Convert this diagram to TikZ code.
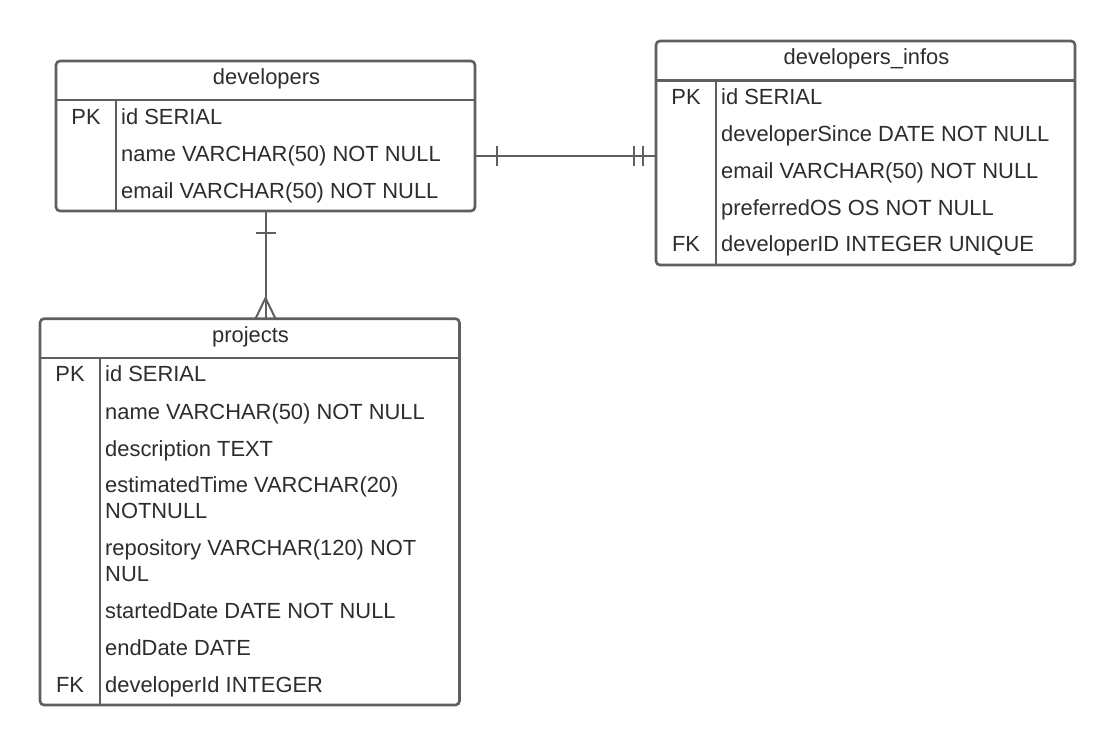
\documentclass[tikz,border=0pt]{standalone}
\usepackage{fontspec}
\setmainfont{Liberation Sans}
\usetikzlibrary{calc}
\definecolor{bordc}{RGB}{95,95,95}
\definecolor{txtc}{RGB}{45,45,45}
\begin{document}
\begin{tikzpicture}[x=1pt,y=-1pt,
  tbl/.style={draw=bordc,line width=2.6pt,rounded corners=4pt,fill=white,inner sep=0pt,outer sep=0pt},
  sepline/.style={draw=bordc,line width=2.6pt},
  conn/.style={draw=bordc,line width=2pt},
  txt/.style={text=txtc,inner sep=0pt,anchor=base west,font=\fontsize{21.9}{24}\selectfont},
  keytxt/.style={text=txtc,inner sep=0pt,anchor=base,font=\fontsize{21.9}{24}\selectfont},
  ttl/.style={text=txtc,inner sep=0pt,anchor=base,font=\fontsize{21.9}{24}\selectfont}]
\useasboundingbox[fill=white] (0,0) rectangle (1116,747);

% ---------- developers ----------
\node[tbl,minimum width=419pt,minimum height=150pt] (dev) at (265.5,136) {};
\coordinate (devh) at (116,100);
\draw[sepline] (dev.west |- devh) -- (dev.east |- devh);
\draw[sepline] (devh) -- (devh |- dev.south);
\node[ttl] (devt) at (266.5,84.3) {developers};
\node[keytxt] (devk1) at (86,124) {PK};
\node[txt] (devr1) at (121,124) {id SERIAL};
\node[txt] (devr2) at (121,161) {name VARCHAR(50) NOT NULL};
\node[txt] (devr3) at (121,198.3) {email VARCHAR(50) NOT NULL};

% ---------- developers_infos ----------
\node[tbl,minimum width=419pt,minimum height=224pt] (inf) at (865.5,153) {};
\coordinate (infh) at (716,80.5);
\draw[sepline] (inf.west |- infh) -- (inf.east |- infh);
\draw[sepline] (infh) -- (infh |- inf.south);
\node[ttl] (inft) at (866.5,64.3) {developers\_infos};
\node[keytxt] (infk1) at (686,104) {PK};
\node[keytxt] (infk5) at (686,251.7) {FK};
\node[txt] (infr1) at (721,104) {id SERIAL};
\node[txt] (infr2) at (721,141) {developerSince DATE NOT NULL};
\node[txt] (infr3) at (721,178.3) {email VARCHAR(50) NOT NULL};
\node[txt] (infr4) at (721,215) {preferredOS OS NOT NULL};
\node[txt] (infr5) at (721,251.7) {developerID INTEGER UNIQUE};

% ---------- projects ----------
\node[tbl,minimum width=419.5pt,minimum height=386.3pt] (prj) at (249.75,511.85) {};
\coordinate (prjh) at (100,358);
\draw[sepline] (prj.west |- prjh) -- (prj.east |- prjh);
\draw[sepline] (prjh) -- (prjh |- prj.south);
\node[ttl] (prjt) at (250.5,342.7) {projects};
\node[keytxt] (prjk1) at (70,381.7) {PK};
\node[keytxt] (prjk8) at (70,692.7) {FK};
\node[txt] (prjr1) at (105,381.7) {id SERIAL};
\node[txt] (prjr2) at (105,419) {name VARCHAR(50) NOT NULL};
\node[txt] (prjr3) at (105,456) {description TEXT};
\node[txt] (prjr4a) at (105,492.7) {estimatedTime VARCHAR(20)};
\node[txt] (prjr4b) at (105,518.3) {NOTNULL};
\node[txt] (prjr5a) at (105,555) {repository VARCHAR(120) NOT};
\node[txt] (prjr5b) at (105,581.7) {NUL};
\node[txt] (prjr6) at (105,618.3) {startedDate DATE NOT NULL};
\node[txt] (prjr7) at (105,655.3) {endDate DATE};
\node[txt] (prjr8) at (105,692.7) {developerId INTEGER};

% ---------- developers -- developers_infos (one and only one) ----------
\coordinate (hy) at (0,155.5);
\draw[conn] (dev.east |- hy) -- (inf.west |- hy);
\draw[conn] ($(dev.east |- hy)+(21.7,-10)$) -- ++(0,20);
\draw[conn] ($(inf.west |- hy)+(-22.3,-10)$) -- ++(0,20);
\draw[conn] ($(inf.west |- hy)+(-13,-10)$) -- ++(0,20);

% ---------- developers -- projects (one to many) ----------
\draw[conn] (dev.south) -- (dev.south |- prj.north);
\draw[conn] ($(dev.south)+(-10,21.7)$) -- ++(20,0);
\draw[conn] ($(dev.south |- prj.north)+(-10,0)$) -- ($(dev.south |- prj.north)+(0,-20.7)$) -- ($(dev.south |- prj.north)+(10,0)$);
\end{tikzpicture}
\end{document}
